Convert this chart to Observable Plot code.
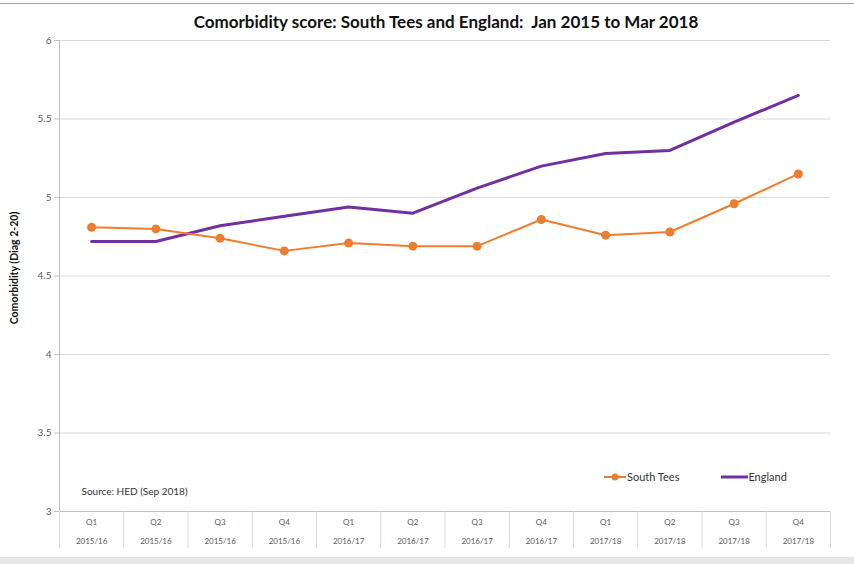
<!DOCTYPE html>
<html><head><meta charset="utf-8">
<script src="https://cdn.jsdelivr.net/npm/d3@7"></script>
<script src="https://cdn.jsdelivr.net/npm/@observablehq/plot@0.6"></script>
<style>
body{margin:0;background:#fff;font-family:Lato,"Open Sans",sans-serif;}
#wrap{position:relative;width:854px;height:564px;overflow:hidden;background:#fff;}
#topline{position:absolute;left:0;top:3px;width:854px;height:1px;background:#a6a6a6;}
#bottomband{position:absolute;left:0;top:557px;width:854px;height:7px;background:#e6e6e6;}
#title{position:absolute;top:11px;left:446px;transform:translateX(-50%);white-space:nowrap;font-weight:bold;font-size:17px;color:#111;}
#chart{position:absolute;left:0;top:0;}
#legend{position:absolute;top:470px;left:603px;font-size:11px;color:#333;white-space:nowrap;}
#legend span.item{display:inline-flex;align-items:center;}
#legend svg{display:block;}
</style></head><body>
<div id="wrap">
 <div id="chart"></div>
 <div id="topline"></div>
 <div id="title">Comorbidity score: South Tees and England:&nbsp; Jan 2015 to Mar 2018</div>
 <div id="legend"></div>
 <div id="bottomband"></div>
</div>
<script>
const quarters = ["Q1","Q2","Q3","Q4","Q1","Q2","Q3","Q4","Q1","Q2","Q3","Q4"];
const years = ["2015/16","2015/16","2015/16","2015/16","2016/17","2016/17","2016/17","2016/17","2017/18","2017/18","2017/18","2017/18"];
const southTees = [4.81,4.80,4.74,4.66,4.71,4.69,4.69,4.86,4.76,4.78,4.96,5.15];
const england = [4.72,4.72,4.82,4.88,4.94,4.90,5.06,5.20,5.28,5.30,5.48,5.65];
const yTicks = [3,3.5,4,4.5,5,5.5,6];
const seriesNames = ["South Tees","England"];
const seriesColors = ["#ED7D31","#7030A0"];

const idx = quarters.map((_, i) => i);
const bounds = d3.range(quarters.length + 1).map(i => i - 0.5);
const st = idx.map(i => ({i, v: southTees[i]}));
const en = idx.map(i => ({i, v: england[i]}));

const chart = Plot.plot({
  width: 854, height: 556,
  marginTop: 40, marginBottom: 45, marginLeft: 59, marginRight: 24,
  x: {domain: [-0.5, quarters.length - 0.5]},
  y: {domain: [3, 6]},
  style: {fontFamily: "Lato, 'Open Sans', sans-serif", color: "#595959", background: "transparent"},
  marks: [
    Plot.gridY(yTicks.slice(1), {stroke: "#d9d9d9", strokeOpacity: 1}),
    Plot.ruleY([3], {stroke: "#bfbfbf"}),
    Plot.ruleX([-0.5], {stroke: "#bfbfbf"}),
    Plot.axisY({ticks: yTicks, tickSize: 5, tickPadding: 3, tickFormat: d => String(d), fontSize: 10, stroke: "#bfbfbf", label: null}),
    Plot.axisX({ticks: bounds, tickSize: 37, tickFormat: () => "", stroke: "#d9d9d9", label: null}),
    Plot.axisX({ticks: idx, tickSize: 0, tickPadding: 8, tickFormat: i => quarters[i], fontSize: 8, label: null}),
    Plot.axisX({ticks: idx, tickSize: 0, tickPadding: 27, tickFormat: i => years[i], fontSize: 8, label: null}),
    Plot.text(["Comorbidity (Diag 2-20)"], {frameAnchor: "left", textAnchor: "middle", rotate: -90, dx: -45, dy: -8, fontWeight: "bold", fontSize: 10.5, fill: "#111"}),
    Plot.text(["Source: HED (Sep 2018)"], {frameAnchor: "bottom-left", dx: 22, dy: -17, fontSize: 10, fill: "#333", textAnchor: "start"}),
    Plot.line(en, {x: "i", y: "v", stroke: seriesColors[1], strokeWidth: 3}),
    Plot.line(st, {x: "i", y: "v", stroke: seriesColors[0], strokeWidth: 2}),
    Plot.dot(st, {x: "i", y: "v", fill: seriesColors[0], r: 4.5})
  ]
});
document.getElementById("chart").appendChild(chart);

const legend = document.getElementById("legend");
legend.innerHTML =
  `<span class="item"><svg width="24" height="12"><line x1="1" x2="23" y1="6" y2="6" stroke="${seriesColors[0]}" stroke-width="2"/><circle cx="12" cy="6" r="3.5" fill="${seriesColors[0]}"/></svg>${seriesNames[0]}</span>` +
  `<span class="item" style="margin-left:42px"><svg width="27" height="12"><line x1="0" x2="27" y1="6" y2="6" stroke="${seriesColors[1]}" stroke-width="3"/></svg>${seriesNames[1]}</span>`;
</script>
</body></html>
